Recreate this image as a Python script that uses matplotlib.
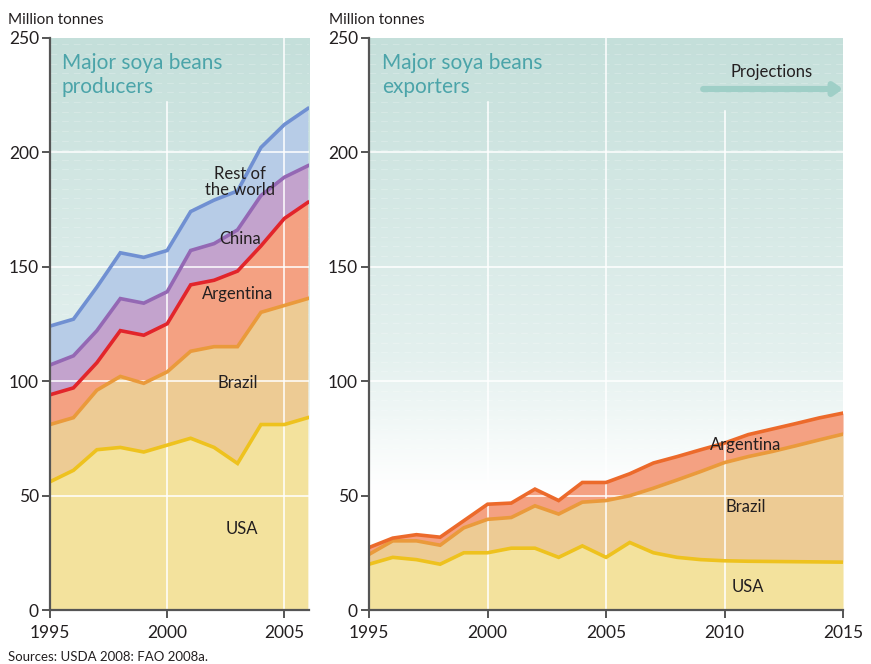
import numpy as np
import matplotlib
matplotlib.use('Agg')
import matplotlib.pyplot as plt
from matplotlib.colors import LinearSegmentedColormap

plt.rcParams['font.family'] = ['Lato', 'DejaVu Sans']

# producers, million tonnes (1995-2006)
prod_years = np.arange(1995, 2007)
prod_usa = [56, 61, 70, 71, 69, 72, 75, 71, 64, 81, 81, 84]
prod_brazil = [25, 23, 26, 31, 30, 32, 38, 44, 51, 49, 52, 52]
prod_argentina = [13, 13, 12, 20, 21, 21, 29, 29, 33, 29, 38, 42]
prod_china = [13, 14, 14, 14, 14, 14, 15, 16, 18, 22, 18, 16]
prod_rest = [17, 16, 19, 20, 20, 18, 17, 19, 17, 21, 23, 25]

# exporters, million tonnes (1995-2015, projections after 2008)
exp_years = np.arange(1995, 2016)
exp_usa = [20.0, 23.0, 22.0, 20.0, 25.0, 25.0, 27.0, 27.0, 23.0, 28.0, 23.0,
           29.5, 25.0, 23.0, 22.0, 21.5, 21.3, 21.2, 21.1, 21.0, 20.9]
exp_brazil = [4.3, 7.2, 8.2, 8.3, 10.9, 14.6, 13.4, 18.5, 18.9, 19.1, 24.8,
              20.4, 28.2, 33.8, 38.5, 42.9, 45.7, 48.0, 50.6, 53.3, 55.9]
exp_argentina = [3.0, 1.2, 2.7, 3.5, 3.1, 6.6, 6.3, 7.3, 5.9, 8.6, 7.9,
                 9.6, 11.0, 10.2, 9.5, 8.5, 9.6, 9.8, 9.7, 9.6, 9.2]

fill_cols = {'usa': '#f3e29d', 'brazil': '#edcb94', 'argentina': '#f4a182',
             'china': '#c3a3cd', 'rest': '#b7cce7'}
line_cols = {'usa': '#eec21e', 'brazil': '#ea9a3b', 'argentina_p': '#e2252b',
             'argentina_e': '#ec6a2b', 'china': '#9468b4', 'rest': '#7090d2'}
title_col = '#4ba4a9'
axis_col = '#555555'
text_col = '#231f20'

bg = LinearSegmentedColormap.from_list('bg', [(0, '#ffffff'), (0.21, '#ffffff'),
                                              (0.45, '#e3f0ee'), (1, '#c4dfda')])


def setup(ax, xmin, xmax, xticks):
    grad = np.linspace(0, 1, 256).reshape(-1, 1)
    ax.imshow(grad, cmap=bg, extent=[0, 1, 0, 1], transform=ax.transAxes,
              aspect='auto', origin='lower', zorder=0)
    ax.set_xlim(xmin, xmax)
    ax.set_ylim(0, 250)
    ax.set_yticks(range(0, 251, 50))
    ax.set_xticks(xticks)
    for s in ['top', 'right']:
        ax.spines[s].set_visible(False)
    for s in ['left', 'bottom']:
        ax.spines[s].set_color(axis_col)
        ax.spines[s].set_linewidth(1.6)
        ax.spines[s].set_zorder(6)
    ax.tick_params(direction='out', length=6, width=1.4, color=axis_col,
                   labelsize=12.5, labelcolor=text_col, pad=2)
    ax.tick_params(axis='x', pad=5)
    for v in [50, 100, 150, 200]:
        ax.axhline(v, color='white', lw=1.1, zorder=3)
    # faint dashed texture of the background
    for v in np.arange(58, 250, 4.2):
        ax.axhline(v, color='white', lw=0.6, alpha=0.25, ls=(0, (8, 6)),
                   zorder=1)


def stack(ax, years, layers):
    base = np.zeros(len(years))
    tops = []
    for vals, fc in layers:
        top = base + np.array(vals, dtype=float)
        ax.fill_between(years, base, top, color=fc, lw=0, zorder=2)
        tops.append(top)
        base = top
    return tops


fig = plt.figure(figsize=(8.71, 6.64), dpi=100)

# ---- producers
ax1 = fig.add_axes([0.0574, 0.0813, 0.2974, 0.8622])
setup(ax1, 1995, 2006.05, [1995, 2000, 2005])
tops = stack(ax1, prod_years, [(prod_usa, fill_cols['usa']),
                               (prod_brazil, fill_cols['brazil']),
                               (prod_argentina, fill_cols['argentina']),
                               (prod_china, fill_cols['china']),
                               (prod_rest, fill_cols['rest'])])
ax1.plot([2000, 2000], [0, 222], color='white', lw=1.1, zorder=3)
ax1.axvline(2005, color='white', lw=1.1, zorder=3)
for top, lc in zip(tops, ['usa', 'brazil', 'argentina_p', 'china', 'rest']):
    ax1.plot(prod_years, top, color=line_cols[lc], lw=2.6, zorder=4,
             solid_joinstyle='miter')
ax1.text(0.046, 0.973, 'Major soya beans\nproducers', transform=ax1.transAxes,
         ha='left', va='top', fontsize=15, color=title_col, linespacing=1.25)
lab = dict(ha='center', va='center', fontsize=12, color=text_col, zorder=5)
ax1.text(2003.1, 187, 'Rest of\nthe world', linespacing=1.0, **lab)
ax1.text(2003.1, 162, 'China', **lab)
ax1.text(2003.0, 138, 'Argentina', **lab)
ax1.text(2003.0, 99, 'Brazil', **lab)
ax1.text(2003.2, 35.5, 'USA', **lab)

# ---- exporters
ax2 = fig.add_axes([0.4237, 0.0813, 0.5442, 0.8622])
setup(ax2, 1995, 2015, [1995, 2000, 2005, 2010, 2015])
tops = stack(ax2, exp_years, [(exp_usa, fill_cols['usa']),
                              (exp_brazil, fill_cols['brazil']),
                              (exp_argentina, fill_cols['argentina'])])
ax2.plot([2000, 2000], [0, 222], color='white', lw=1.1, zorder=3)
ax2.axvline(2005, color='white', lw=1.1, zorder=3)
ax2.plot([2010, 2010], [0, 218], color='white', lw=1.1, zorder=3)
for top, lc in zip(tops, ['usa', 'brazil', 'argentina_e']):
    ax2.plot(exp_years, top, color=line_cols[lc], lw=2.6, zorder=4,
             solid_joinstyle='miter')
ax2.text(0.027, 0.973, 'Major soya beans\nexporters', transform=ax2.transAxes,
         ha='left', va='top', fontsize=15, color=title_col, linespacing=1.25)
ax2.text(2010.9, 72, 'Argentina', **lab)
ax2.text(2010.9, 45, 'Brazil', **lab)
ax2.text(2011.0, 10, 'USA', **lab)
ax2.text(2012.0, 235, 'Projections', ha='center', va='center', fontsize=12,
         color=text_col)
ax2.annotate('', xy=(2015.0, 227.5), xytext=(2009.1, 227.5),
             annotation_clip=False,
             arrowprops=dict(arrowstyle='-|>,head_length=0.5,head_width=0.35',
                             color='#9fcfc7', lw=4.5, shrinkA=0, shrinkB=0),
             zorder=5)

fig.text(8 / 871, 1 - 20 / 664, 'Million tonnes', ha='left', va='center',
         fontsize=11, color=text_col)
fig.text(329 / 871, 1 - 20 / 664, 'Million tonnes', ha='left', va='center',
         fontsize=11, color=text_col)
fig.text(8 / 871, 1 - 657 / 664, 'Sources: USDA 2008: FAO 2008a.', ha='left',
         va='center', fontsize=9.5, color=text_col)

fig.savefig('out.png', dpi=100)
